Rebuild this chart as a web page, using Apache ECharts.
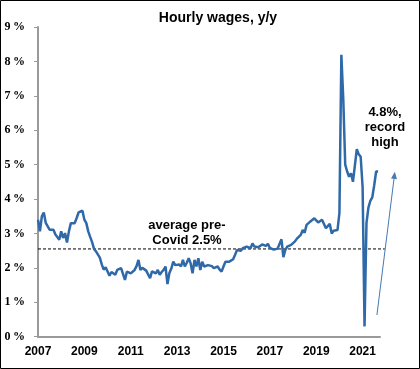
<!DOCTYPE html>
<html><head><meta charset="utf-8">
<script src="https://cdn.jsdelivr.net/npm/echarts@6/dist/echarts.min.js"></script>
<style>html,body{margin:0;padding:0;background:#fff}#c{width:420px;height:369px}</style>
</head><body><div id="c"></div>
<script>
const titleText = 'Hourly wages, y/y';
const xLabels = ['2007','2009','2011','2013','2015','2017','2019','2021'];
const monthsPerLabel = 24;
const yTicks = [0,1,2,3,4,5,6,7,8,9];
const wages = [
3.40,3.06,3.50,3.61,3.31,3.35,3.11,3.06,3.11,2.97,
2.90,2.82,3.06,2.87,3.01,2.74,3.06,3.30,3.25,3.30,
3.45,3.61,3.59,3.66,3.40,3.30,3.06,2.90,2.75,2.55,
2.48,2.45,2.30,2.10,1.95,2.02,2.05,1.77,1.88,1.92,
1.80,1.94,1.89,1.99,1.94,1.65,1.89,1.94,1.84,1.89,
1.94,2.05,2.23,
1.94,2.00,1.99,1.92,1.89,1.70,1.90,1.94,1.84,1.94,
1.80,1.88,1.94,2.04,1.53,1.85,1.98,2.18,2.08,2.12,
2.10,2.04,2.23,2.04,2.15,2.28,2.13,1.84,2.23,2.04,
2.28,1.94,2.18,2.04,2.04,2.08,2.13,2.05,1.99,2.04,
2.04,1.95,1.89,2.04,2.18,2.23,2.18,2.23,2.25,2.38,
2.52,2.50,2.50,2.57,2.52,2.62,2.58,2.57,2.71,2.62,
2.67,2.60,
2.65,2.68,2.66,2.64,2.70,2.58,2.55,2.53,2.52,2.56,
2.60,2.83,2.31,2.52,2.62,2.57,2.67,2.65,2.77,2.85,
2.90,2.96,3.10,3.02,3.25,3.22,3.35,3.38,3.44,3.44,
3.32,3.33,3.40,3.36,3.15,3.10,3.28,3.00,3.08,3.05,
3.10,3.60,8.19,6.90,5.00,4.80,4.65,4.75,4.50,4.50,
5.45,5.30,5.23,4.35,0.30,3.30,3.75,3.95,4.05,4.40,
4.80,4.80
];
const avgPreCovid = 2.55;
const avgLabel = ['average pre-', 'Covid 2.5%'];
const recordLabel = ['4.8%,', 'record', 'high'];
const arrowFrom = [175.4, 0.63];
const arrowTo = [184.7, 4.79];
const avgLineEnd = 179.5;

const seriesData = wages.map((v, i) => [i, v]);
const chart = echarts.init(document.getElementById('c'), null, {renderer: 'canvas'});
const lineBlue = '#2f69a8';
chart.setOption({
  animation: false,
  backgroundColor: '#fff',
  title: {
    text: titleText, left: 213, top: 6, textAlign: 'center',
    textStyle: {fontFamily: 'Liberation Sans', fontWeight: 'bold', fontSize: 14, color: '#000'}
  },
  grid: {left: 38, right: 40, top: 27, bottom: 32.3, containLabel: false},
  xAxis: {
    type: 'value', min: 0, max: 177, interval: monthsPerLabel,
    axisLine: {show: true, lineStyle: {color: '#9a9a9a', width: 2}},
    axisTick: {show: false},
    splitLine: {show: false},
    axisLabel: {
      showMaxLabel: false, margin: 9,
      fontFamily: 'Liberation Sans', fontWeight: 'bold', fontSize: 12, color: '#000',
      formatter: v => (v % monthsPerLabel === 0 && xLabels[v / monthsPerLabel]) ? xLabels[v / monthsPerLabel] : ''
    }
  },
  yAxis: {
    type: 'value', min: yTicks[0], max: yTicks[yTicks.length - 1], interval: 1,
    axisLine: {show: true, lineStyle: {color: '#9a9a9a', width: 2}},
    axisTick: {show: true, length: 4, lineStyle: {color: '#9a9a9a', width: 1}},
    splitLine: {show: false},
    axisLabel: {
      margin: 13,
      fontFamily: 'Liberation Serif', fontWeight: 'bold', fontSize: 12, color: '#000',
      formatter: v => v + '\u2009%'
    }
  },
  series: [{
    type: 'line', data: seriesData, showSymbol: false, symbol: 'none',
    lineStyle: {color: lineBlue, width: 2.5}, z: 5
  }]
});

const p0 = chart.convertToPixel({gridIndex: 0}, [0, avgPreCovid]);
const p1 = chart.convertToPixel({gridIndex: 0}, [avgLineEnd, avgPreCovid]);
const a0 = chart.convertToPixel({gridIndex: 0}, arrowFrom);
const a1 = chart.convertToPixel({gridIndex: 0}, arrowTo);
const dx = a1[0] - a0[0], dy = a1[1] - a0[1];
const len = Math.sqrt(dx * dx + dy * dy);
const ux = dx / len, uy = dy / len;
const headL = 7, headW = 3;
const base = [a1[0] - ux * headL, a1[1] - uy * headL];
const head = [a1, [base[0] - uy * headW, base[1] + ux * headW], [base[0] + uy * headW, base[1] - ux * headW]];
const txtStyle = {fontFamily: 'Liberation Sans', fontWeight: 'bold', fontSize: 13, fill: '#000', textAlign: 'center', textVerticalAlign: 'middle'};
chart.setOption({
  graphic: [
    {type: 'rect', shape: {x: 0.5, y: 0.5, width: 419, height: 368}, style: {fill: 'none', stroke: '#000', lineWidth: 1}, z: 100},
    {type: 'line', shape: {x1: p0[0], y1: p0[1], x2: p1[0], y2: p1[1]}, style: {stroke: '#000', lineWidth: 1, lineDash: [3, 2]}, z: 3},
    {type: 'line', shape: {x1: a0[0], y1: a0[1], x2: base[0], y2: base[1]}, style: {stroke: '#4a78b0', lineWidth: 1}, z: 6},
    {type: 'polygon', shape: {points: head}, style: {fill: '#4a78b0'}, z: 6},
    {type: 'text', x: 187, y: 225, style: Object.assign({text: avgLabel[0]}, txtStyle), z: 7},
    {type: 'text', x: 187, y: 240, style: Object.assign({text: avgLabel[1]}, txtStyle), z: 7},
    {type: 'text', x: 385, y: 112, style: Object.assign({text: recordLabel[0]}, txtStyle), z: 7},
    {type: 'text', x: 385, y: 127, style: Object.assign({text: recordLabel[1]}, txtStyle), z: 7},
    {type: 'text', x: 385, y: 142, style: Object.assign({text: recordLabel[2]}, txtStyle), z: 7}
  ]
});
</script></body></html>
